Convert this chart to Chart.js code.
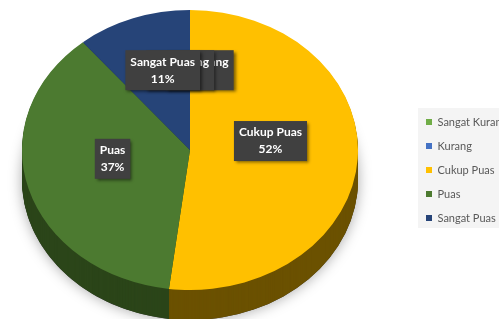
<!DOCTYPE html>
<html>
<head>
<meta charset="utf-8">
<title>Tingkat Kepuasan</title>
<script src="https://cdn.jsdelivr.net/npm/chart.js"></script>
<style>
    html, body { margin: 0; padding: 0; background: #fff; overflow: hidden; }
    #wrap { position: relative; width: 499px; height: 319px; overflow: hidden; }
    #chart { position: absolute; left: -33px; top: 0; }
</style>
</head>
<body>
<div id="wrap"><canvas id="chart" width="532" height="319"></canvas></div>
<script>
// 数据
const categories = ['Sangat Kurang', 'Kurang', 'Cukup Puas', 'Puas', 'Sangat Puas'];
const values = [0, 0, 52, 37, 11];

// 颜色：顶面 / 侧面
const topColors = ['#70AD47', '#4472C4', '#FFC000', '#4C7A30', '#264478'];
const sideColors = ['#3d6027', '#25406e', '#6b5100', '#2b4519', '#152748'];

const TILT = 1.2;   // 横向拉伸，模拟倾斜视角
const DEPTH = 30;   // 饼图厚度

// 3D饼图插件：侧面、图例背景、数据标签
const pie3dPlugin = {
    id: 'pie3d',
    beforeDraw(chart) {
        const lg = chart.legend;
        const boxes = lg.legendHitBoxes;
        if (!boxes || !boxes.length) return;
        const first = boxes[0];
        const last = boxes[boxes.length - 1];
        const ctx = chart.ctx;
        ctx.save();
        ctx.fillStyle = '#f4f4f4';
        ctx.fillRect(lg.left + 5, first.top - 8.5, chart.width, last.top + last.height - first.top + 13);
        ctx.restore();
    },
    beforeDatasetsDraw(chart) {
        const ctx = chart.ctx;
        const arcs = chart.getDatasetMeta(0).data;
        const cx = arcs[0].x;
        const cy = arcs[0].y;
        const r = arcs[0].outerRadius;
        ctx.save();
        ctx.translate(cx, cy);
        ctx.scale(TILT, 1);
        ctx.translate(-cx, -cy);

        // 阴影
        ctx.save();
        ctx.shadowColor = 'rgba(0,0,0,0.35)';
        ctx.shadowBlur = 14;
        ctx.beginPath();
        ctx.arc(cx, cy + DEPTH, r, 0, Math.PI * 2);
        ctx.fillStyle = '#333';
        ctx.fill();
        ctx.restore();

        // 侧面
        for (let d = DEPTH; d >= 1; d--) {
            arcs.forEach((arc, i) => {
                if (arc.endAngle - arc.startAngle <= 0) return;
                ctx.beginPath();
                ctx.moveTo(arc.x, arc.y + d);
                ctx.arc(arc.x, arc.y + d, arc.outerRadius, arc.startAngle, arc.endAngle);
                ctx.closePath();
                ctx.fillStyle = sideColors[i];
                ctx.fill();
            });
        }
    },
    afterDatasetsDraw(chart) {
        const ctx = chart.ctx;
        ctx.restore();

        const arcs = chart.getDatasetMeta(0).data;
        const total = values.reduce((a, b) => a + b, 0);
        ctx.save();
        ctx.font = 'bold 12px Lato';
        ctx.textAlign = 'center';
        ctx.textBaseline = 'middle';
        arcs.forEach((arc, i) => {
            const mid = (arc.startAngle + arc.endAngle) / 2;
            const r = arc.outerRadius;
            const x = arc.x + Math.cos(mid) * r * 0.48 * TILT;
            const y = arc.y + Math.sin(mid) * r * 0.57 - Math.abs(Math.cos(mid)) * r * 0.1;
            const lines = [categories[i], Math.round(values[i] / total * 100) + '%'];
            const w = Math.max(...lines.map(t => ctx.measureText(t).width)) + 10;
            const h = 40;

            ctx.shadowColor = 'rgba(0,0,0,0.5)';
            ctx.shadowBlur = 3;
            ctx.shadowOffsetX = 2;
            ctx.shadowOffsetY = 2;
            ctx.fillStyle = '#404040';
            ctx.fillRect(x - w / 2, y - h / 2, w, h);

            ctx.shadowColor = 'transparent';
            ctx.fillStyle = '#ffffff';
            ctx.fillText(lines[0], x, y - 8.5);
            ctx.fillText(lines[1], x, y + 8.5);
        });
        ctx.restore();
    }
};

const chart = new Chart(document.getElementById('chart'), {
    type: 'pie',
    data: {
        labels: categories,
        datasets: [{
            data: values,
            backgroundColor: topColors,
            borderWidth: 0,
            hoverBorderWidth: 0,
            hoverOffset: 0
        }]
    },
    options: {
        responsive: false,
        animation: false,
        events: [],
        layout: {
            padding: { top: 10, bottom: 29, left: 0, right: 0 }
        },
        plugins: {
            tooltip: { enabled: false },
            legend: {
                position: 'right',
                maxWidth: 86,
                title: {
                    display: true,
                    text: '',
                    font: { size: 10 },
                    padding: { top: 28, bottom: 0 }
                },
                labels: {
                    boxWidth: 6,
                    boxHeight: 6,
                    padding: 13,
                    color: '#595959',
                    font: { family: 'Lato', size: 11 }
                }
            }
        }
    },
    plugins: [pie3dPlugin]
});
</script>
</body>
</html>
